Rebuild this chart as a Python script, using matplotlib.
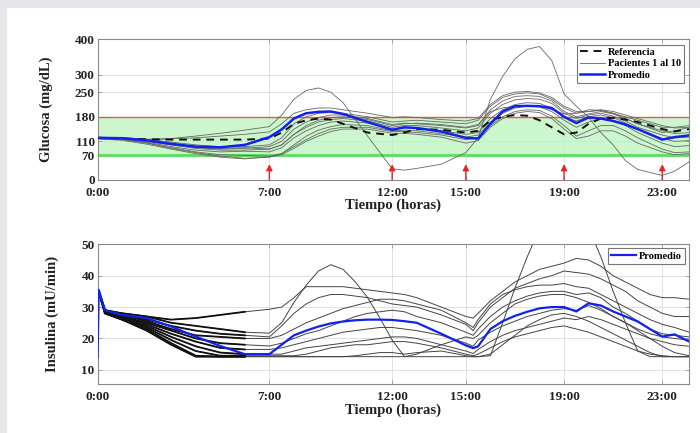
import matplotlib
matplotlib.use("Agg")
import matplotlib.pyplot as plt
import numpy as np

plt.rcParams["font.family"] = ["Liberation Serif", "DejaVu Serif"]
plt.rcParams["font.weight"] = "bold"

# =========================
# Glucose panel data (mg/dL)
# =========================
t_glu = [0, 1, 2, 3, 4, 5, 6, 7, 7.5, 8, 8.5, 9, 9.5, 10, 11, 12, 12.5, 13, 14, 15,
         15.5, 16, 16.5, 17, 17.5, 18, 18.5, 19, 19.5, 20, 20.5, 21, 21.5, 22, 23, 23.5, 24.1]

glu_ref = [120, 118, 116, 115, 115, 115, 115, 118, 135, 160, 170, 175, 172, 160, 135, 128, 135, 145, 143, 135,
           140, 170, 180, 185, 183, 170, 150, 130, 135, 160, 175, 177, 172, 165, 145, 138, 145]

glu_mean = [120, 119, 113, 103, 95, 93, 100, 122, 144, 175, 190, 194, 195, 188, 165, 143, 150, 148, 138, 120,
            118, 160, 195, 210, 211, 210, 205, 180, 162, 178, 175, 168, 158, 145, 115, 122, 127]

glu_patients = [
    [118, 117, 113, 118, 125, 133, 142, 152, 185, 230, 255, 262, 250, 220, 125, 32, 28, 33, 45, 78,
     120, 230, 295, 345, 372, 380, 340, 245, 210, 178, 135, 100, 55, 30, 13, 25, 52],
    [120, 118, 116, 118, 120, 125, 130, 137, 160, 190, 200, 205, 205, 200, 190, 178, 180, 178, 172, 168,
     175, 215, 240, 250, 252, 248, 235, 210, 195, 195, 198, 190, 180, 170, 150, 150, 155],
    [122, 120, 115, 108, 100, 95, 95, 100, 120, 160, 180, 190, 192, 190, 180, 165, 168, 170, 165, 160,
     170, 210, 235, 245, 248, 245, 230, 205, 190, 195, 200, 195, 185, 175, 155, 148, 150],
    [118, 116, 110, 100, 92, 88, 90, 95, 110, 145, 165, 178, 185, 185, 175, 158, 162, 160, 155, 148,
     155, 200, 225, 238, 240, 238, 225, 195, 180, 188, 195, 188, 175, 160, 140, 132, 135],
    [120, 118, 112, 103, 95, 90, 92, 88, 100, 130, 150, 165, 172, 175, 168, 150, 155, 155, 148, 140,
     148, 190, 215, 228, 232, 230, 218, 190, 175, 185, 190, 182, 168, 150, 128, 120, 122],
    [120, 117, 108, 95, 85, 80, 82, 80, 92, 120, 140, 155, 165, 168, 162, 145, 148, 148, 140, 130,
     135, 175, 200, 215, 220, 218, 205, 180, 168, 180, 185, 178, 162, 145, 118, 110, 112],
    [118, 115, 105, 92, 80, 72, 70, 68, 75, 100, 125, 142, 152, 158, 155, 140, 142, 140, 132, 122,
     128, 165, 190, 205, 210, 208, 195, 170, 150, 165, 175, 170, 155, 135, 105, 95, 98],
    [117, 113, 102, 88, 75, 65, 60, 66, 75, 95, 115, 132, 145, 150, 150, 138, 138, 135, 128, 115,
     120, 155, 180, 195, 200, 198, 182, 155, 125, 140, 155, 155, 140, 120, 88, 78, 80],
    [120, 116, 106, 90, 78, 68, 62, 65, 72, 90, 110, 125, 138, 145, 145, 133, 133, 130, 122, 105,
     112, 150, 175, 190, 195, 192, 175, 145, 118, 125, 140, 140, 125, 105, 80, 72, 75],
    [119, 117, 110, 100, 90, 85, 85, 88, 100, 130, 155, 170, 178, 180, 172, 155, 160, 162, 158, 150,
     158, 195, 205, 210, 212, 210, 200, 188, 190, 200, 198, 190, 175, 160, 135, 140, 150],
]

meal_times = [7, 12, 15, 19, 23]

# =========================
# Insulin panel data (mU/min)
# =========================
t_ins = [0, 0.05, 0.3, 1, 2, 3, 4, 5, 6, 7, 7.5, 8, 8.5, 9, 9.5, 10, 10.5, 11, 11.5, 12, 12.5, 13,
         14, 15, 15.3, 15.5, 16, 16.5, 17, 17.5, 18, 18.5, 19, 19.5, 20, 20.5, 21, 21.5, 22, 22.5, 23, 23.5, 24.1]

ins_mean = [14, 35.5, 29, 27.5, 26.5, 23.8, 20.6, 17.6, 15, 15, 18, 21, 22.5, 23.8, 24.8, 25.4, 25.8, 26, 26, 25.9, 25.5, 25,
            21.5, 17.8, 16.9, 17.5, 23, 25.5, 27.2, 28.5, 29.6, 30, 30, 28.6, 31.2, 30.5, 28.6, 27, 25.4, 23, 20.6, 21.3, 19]

ins_patients = [
    [35, 35, 29, 28, 27, 26, 26.5, 27.5, 28.5, 29.3, 30, 33, 36.5, 36.5, 36.5, 36.5, 36, 35.5, 35, 34.5, 34, 33,
     30, 27, 26.5, 28, 32, 35, 38, 40, 42, 43, 44, 45.5, 45, 43, 40, 38, 36, 34, 33, 33, 32.5],
    [35, 35, 29, 28, 27, 25, 24, 23, 22, 21.7, 25, 31.5, 37, 41.5, 43.5, 42, 38, 33, 26.5, 19.5, 14.2, 14.2,
     14.2, 14.2, 14.2, 14.2, 14.5, 25, 36, 46, 55, 60, 62, 60, 55, 46, 35, 25, 16, 14.2, 14.2, 14.2, 14.2],
    [35, 35, 29, 27.5, 26, 24, 22.5, 21.5, 21, 20.5, 24, 28, 31, 33, 34, 34, 33.5, 33, 32, 31, 30.5, 30,
     27.5, 24.5, 22.5, 25, 30, 33, 36, 37.5, 39, 40, 41.5, 41, 40.5, 39, 37, 35, 32, 30, 28, 27, 27],
    [35, 35, 29, 27.5, 25.5, 23, 21, 20.5, 20, 20, 21, 23, 25, 26.5, 28, 29.5, 30.5, 31.5, 32.5, 32.5, 32, 31,
     29, 25, 23.5, 26, 31, 34, 35.5, 36.5, 37, 37, 37.5, 36.5, 36, 34, 32, 30, 28, 26, 24.5, 23.5, 22],
    [35, 35, 29, 27, 25, 22.5, 20, 18.5, 18, 17.6, 18.5, 20, 21.5, 22.5, 24, 25.5, 27, 28, 28.5, 29, 28.5, 27,
     25, 22, 21, 23, 27, 30, 32, 33.5, 34.5, 35, 35, 34, 34.5, 33, 30, 28, 25.5, 23, 21.5, 21, 20.5],
    [35, 35, 28.5, 27, 24.5, 21.5, 19, 17, 16.5, 16.5, 17, 18, 19, 20, 21, 22, 22.5, 23, 23.5, 23.5, 23, 22.5,
     21, 18.5, 17.5, 19.5, 22, 24, 25.5, 27, 28, 29, 29.5, 29, 30.5, 29, 27, 25, 23, 21.5, 20.5, 20, 19.5],
    [35, 35, 28.5, 26.5, 24, 20.5, 17.5, 15.5, 15, 15, 15, 16, 17, 17.5, 18, 18.5, 19, 19.5, 20, 20.5, 20.5, 20,
     18, 16, 15.2, 16.5, 19, 21, 22.5, 23.5, 24.5, 25.5, 26.5, 26, 27, 26, 24.5, 23, 21.5, 20, 19, 18, 17.5],
    [35, 35, 28.5, 26.5, 23.5, 19.5, 16, 14.5, 14.5, 14.5, 14.5, 14.5, 15, 16, 17, 17.5, 18, 18, 18.5, 19, 19, 18.5,
     17, 15, 14.5, 15, 17, 19, 20.5, 21.5, 22.5, 23.5, 24, 23, 22, 20.5, 19, 17.5, 16, 15, 14.5, 14.2, 14.2],
    [35, 35, 28, 26, 23, 18.5, 14.5, 14.2, 14.2, 14.2, 14.2, 14.2, 14.2, 14.2, 14.2, 14.2, 14.5, 15, 15.5, 15.5, 15, 15.5,
     16, 14.5, 14.2, 14.2, 15, 18, 21, 24, 26, 27.5, 28, 27, 25.5, 23.5, 21.5, 19.5, 17.5, 15.5, 14.2, 14.2, 14.2],
    [35, 35, 28, 26, 22.5, 18, 14.2, 14.2, 14.2, 14.2, 14.2, 14.2, 14.2, 14.2, 14.2, 14.2, 14.2, 14.2, 14.2, 14.2, 14.2, 15,
     18, 20.5, 20, 21, 25, 28, 31, 32.5, 33.5, 34, 34, 33, 31.5, 29.5, 27, 25, 22.5, 20, 17.5, 15.5, 14.5],
]

hour_ticks = [0, 7, 12, 15, 19, 23]
hour_labels = ["0:00", "7:00", "12:00", "15:00", "19:00", "23:00"]
glu_ticks = [0, 70, 110, 180, 250, 300, 400]
ins_ticks = [10, 20, 30, 40, 50]

# =========================
# Figure
# =========================
fig = plt.figure(figsize=(7.0, 4.33), dpi=100)
fig.patches.append(plt.Rectangle((0, 1 - 7 / 433), 1, 7 / 433, transform=fig.transFigure,
                                 color="#e6e7ea", zorder=0))
fig.patches.append(plt.Rectangle((0, 0), 6 / 700, 1, transform=fig.transFigure,
                                 color="#e6e7ea", zorder=0))

ax1 = fig.add_axes([0.1393, 0.5843, 0.8454, 0.3245])
ax2 = fig.add_axes([0.1393, 0.1125, 0.8454, 0.3233])

txt = "#222222"


def style_axis(ax):
    ax.set_xlim(0, 24.1)
    ax.set_xticks(hour_ticks)
    ax.set_xticklabels(hour_labels)
    ax.grid(True, color="#dcdcdc", lw=0.6)
    ax.set_axisbelow(True)
    for s in ax.spines.values():
        s.set_color("#8a8a8a")
        s.set_linewidth(0.8)
    ax.tick_params(direction="in", length=3, width=0.5, color="#8a8a8a",
                   top=True, right=True, labelsize=9.5, labelcolor=txt, pad=2)
    ax.tick_params(axis="x", pad=5)
    for lab in ax.get_xticklabels() + ax.get_yticklabels():
        lab.set_fontweight("bold")
    ax.set_xlabel("Tiempo (horas)", fontsize=10.5, fontweight="bold", color=txt, labelpad=0)


# ---- glucose ----
ax1.axhspan(70, 180, color="#ccf7cc", zorder=0.5, lw=0)
ax1.axhline(70, color="#66dd66", lw=2.2, zorder=1)
ax1.axhline(180, color="#e8574f", lw=1.0, zorder=1)

for i, g in enumerate(glu_patients):
    ax1.plot(t_glu, g, color="#666666", lw=0.6, zorder=2,
             label="Pacientes 1 al 10" if i == 0 else None)
ax1.plot(t_glu, glu_ref, color="#111111", lw=1.4, ls=(0, (4, 3)), zorder=3, label="Referencia")
ax1.plot(t_glu, glu_mean, color="#1122ee", lw=1.8, zorder=4, label="Promedio")

for m in meal_times:
    ax1.annotate("", xy=(m, 45), xytext=(m, 0),
                 arrowprops=dict(arrowstyle="-|>", color="#ee2222", lw=1.0,
                                 mutation_scale=9, shrinkA=0, shrinkB=0),
                 zorder=5)

ax1.set_ylim(0, 400)
ax1.set_yticks(glu_ticks)
style_axis(ax1)
ax1.set_ylabel("Glucosa (mg/dL)", fontsize=10.5, fontweight="bold", color=txt, labelpad=16)

h, l = ax1.get_legend_handles_labels()
order = [l.index("Referencia"), l.index("Pacientes 1 al 10"), l.index("Promedio")]
leg1 = ax1.legend([h[k] for k in order], [l[k] for k in order], loc="upper right",
                  fontsize=7.5, frameon=True, fancybox=False, edgecolor="#777777",
                  framealpha=1, handlelength=2.4, handletextpad=0.3, borderpad=0.3,
                  labelspacing=0.2, borderaxespad=0.5)
leg1.get_frame().set_linewidth(0.8)
for t in leg1.get_texts():
    t.set_fontweight("bold")

# ---- insulin ----
# dense controller chatter in the first hours drawn as a darker, heavier stroke
early = [k for k, t in enumerate(t_ins) if t <= 6]
for p in ins_patients:
    ax2.plot(t_ins, p, color="#444444", lw=0.7, zorder=2)
    ax2.plot([t_ins[k] for k in early], [p[k] for k in early], color="#111111", lw=1.3, zorder=2)
ax2.plot(t_ins, ins_mean, color="#1122ee", lw=1.6, zorder=4, label="Promedio")

ax2.set_ylim(5.4, 50)
ax2.set_yticks(ins_ticks)
style_axis(ax2)
ax2.set_ylabel("Insulina (mU/min)", fontsize=10.5, fontweight="bold", color=txt, labelpad=16)

leg2 = ax2.legend(loc="upper right", fontsize=7.5, frameon=True, fancybox=False,
                  edgecolor="#777777", framealpha=1, handlelength=2.4, handletextpad=0.3,
                  borderpad=0.3, borderaxespad=0.4)
leg2.get_frame().set_linewidth(0.8)
for t in leg2.get_texts():
    t.set_fontweight("bold")

fig.savefig("out.png", dpi=100)
